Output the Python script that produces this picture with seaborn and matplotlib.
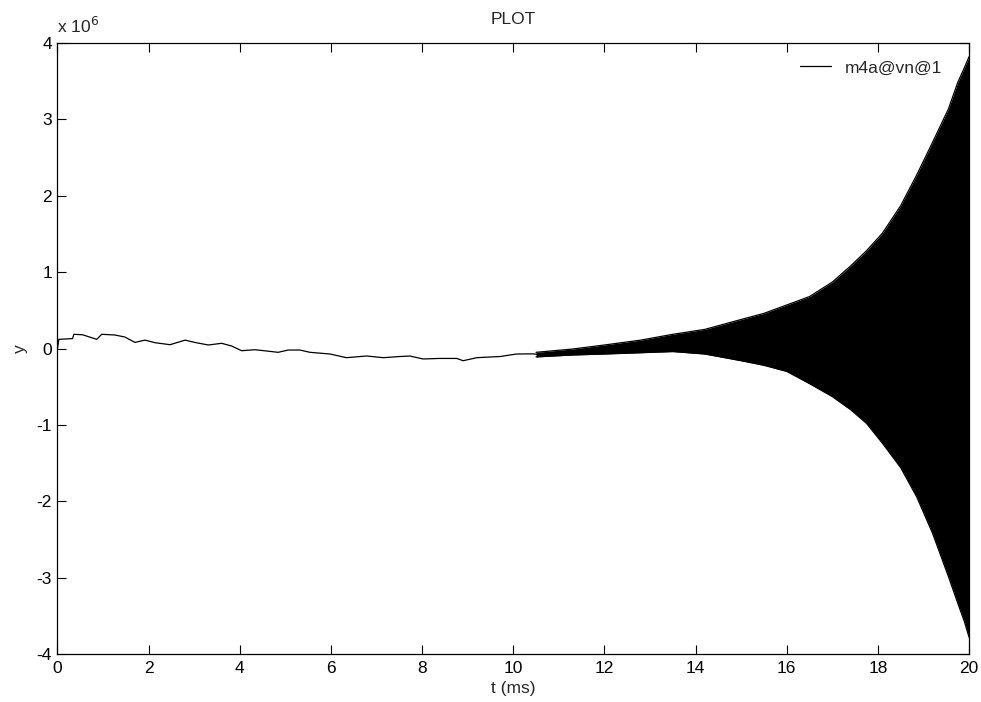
import numpy as np
import pandas as pd
import matplotlib
matplotlib.use("Agg")
import matplotlib.pyplot as plt
import seaborn as sns

# low-frequency part of the trace (t in ms, y in units of 1e6)
t_trend = [0.0, 0.03, 0.33, 0.36, 0.55, 0.68, 0.86, 0.97, 1.26, 1.48, 1.70, 1.92,
           2.14, 2.47, 2.80, 3.01, 3.31, 3.60, 3.82, 4.04, 4.33, 4.55, 4.84, 5.06,
           5.32, 5.54, 5.98, 6.34, 6.78, 7.15, 7.51, 7.73, 8.02, 8.39, 8.76, 8.90,
           9.20, 9.71, 10.07, 10.43, 10.60]
y_trend = [0.0, 0.12, 0.13, 0.186, 0.18, 0.155, 0.12, 0.186, 0.177, 0.15, 0.08, 0.11,
           0.076, 0.05, 0.11, 0.08, 0.046, 0.068, 0.033, -0.029, -0.016, -0.03, -0.05, -0.02,
           -0.02, -0.05, -0.072, -0.12, -0.098, -0.12, -0.105, -0.098, -0.137, -0.13, -0.13, -0.16,
           -0.12, -0.105, -0.072, -0.07, -0.08]

# envelope of the growing oscillation (units of 1e6)
t_band = [10.5, 11.3, 12.0, 12.8, 13.5, 14.2, 15.0, 15.5, 16.0, 16.5, 17.0, 17.4,
          17.75, 18.1, 18.5, 18.85, 19.2, 19.55, 19.75, 19.9, 20.0]
y_upper = [-0.05, -0.007, 0.046, 0.11, 0.186, 0.25, 0.38, 0.46, 0.57, 0.68, 0.87, 1.08,
           1.28, 1.51, 1.87, 2.27, 2.70, 3.14, 3.48, 3.68, 3.82]
y_lower = [-0.11, -0.085, -0.072, -0.055, -0.04, -0.072, -0.16, -0.22, -0.30, -0.46, -0.63, -0.80,
           -0.98, -1.24, -1.56, -1.94, -2.42, -2.99, -3.33, -3.58, -3.78]

x_ticks = [0, 2, 4, 6, 8, 10, 12, 14, 16, 18, 20]
y_ticks = [-4, -3, -2, -1, 0, 1, 2, 3, 4]
series_name = "m4a@vn@1"

sns.set_style("ticks")
plt.rcParams['font.family'] = ['Liberation Sans', 'DejaVu Sans']
FS = 12.5

fig = plt.figure(figsize=(9.81, 7.02), dpi=100)
ax = fig.add_axes([0.0586, 0.0684, 0.9292, 0.8703])

df = pd.DataFrame({"t": t_trend, "y": y_trend})
sns.lineplot(data=df, x="t", y="y", ax=ax, color="black", lw=0.9,
             label=series_name, sort=False)

ax.fill_between(t_band, y_lower, y_upper, color="black", lw=0)
bdf = pd.DataFrame({"t": t_band, "u": y_upper, "l": y_lower})
sns.lineplot(data=bdf, x="t", y="u", ax=ax, color="black", lw=0.9, legend=False)
sns.lineplot(data=bdf, x="t", y="l", ax=ax, color="black", lw=0.9, legend=False)

ax.set_xlim(0, 20)
ax.set_ylim(-4, 4)
ax.set_xticks(x_ticks)
ax.set_yticks(y_ticks)
ax.set_xticklabels([str(v) for v in x_ticks], fontsize=FS)
ax.set_yticklabels([str(v) for v in y_ticks], fontsize=FS)
ax.tick_params(direction="in", length=6.5, width=0.8, colors="black",
               top=True, right=True)
ax.tick_params(axis="x", pad=5)
ax.tick_params(axis="y", pad=4)
for s in ax.spines.values():
    s.set_visible(True)
    s.set_color("black")
    s.set_linewidth(0.9)

ax.set_xlabel("t (ms)", fontsize=FS, labelpad=4)
ax.set_ylabel("y", fontsize=FS, labelpad=6)
ax.set_title("PLOT", fontsize=FS, pad=14)
ax.text(0.0, 1.012, r"x 10$^{6}$", transform=ax.transAxes, fontsize=FS,
        ha="left", va="bottom")

leg = ax.legend(loc="upper right", bbox_to_anchor=(0.99, 1.0), frameon=False,
                fontsize=FS, handlelength=1.8, handletextpad=0.8, borderaxespad=0.6)

fig.savefig("out.png", dpi=100, facecolor="white")
